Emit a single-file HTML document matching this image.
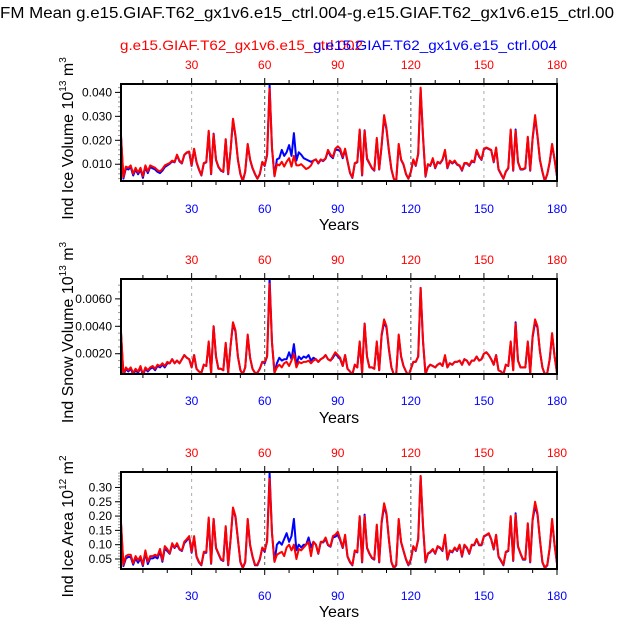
<!DOCTYPE html>
<html><head><meta charset="utf-8"><style>
html,body{margin:0;padding:0;background:#fff;}
svg{display:block;font-family:"Liberation Sans",Arial,sans-serif;}
</style></head><body>
<svg id="chart" width="618" height="619" viewBox="0 0 618 619" xmlns="http://www.w3.org/2000/svg">
<text x="0" y="18" font-size="16" textLength="614" lengthAdjust="spacingAndGlyphs">FM Mean g.e15.GIAF.T62_gx1v6.e15_ctrl.004-g.e15.GIAF.T62_gx1v6.e15_ctrl.00</text>
<text x="120" y="50" font-size="14" fill="#ff0000" textLength="243" lengthAdjust="spacingAndGlyphs">g.e15.GIAF.T62_gx1v6.e15_ctrl.002</text>
<text x="313" y="50" font-size="14" fill="#0000ff" textLength="244" lengthAdjust="spacingAndGlyphs">g.e15.GIAF.T62_gx1v6.e15_ctrl.004</text>
</svg>
<script>
const years = Array.from({length:180},(_, i)=>i+1);
const xTicks = [30,60,90,120,150,180];
const volRed = [22,4.6,9,8.5,9.5,6,8.5,6.5,8.5,5,9.5,7,9.5,9,8.5,7.5,7,8,9.5,10,10.5,11.5,11,14,11.5,10.5,14,15,15.3,9.5,16.5,11,8,5.5,10.5,11,24,6,22.5,12,9,7.5,7,20.5,6,16,29,22,12,6,3,7,18.5,12,8.5,6,4,6,11,9.5,14,41.5,17,5,10,9.5,11,9,11,12.5,9,13.5,9.5,9.5,10,9,8,8.5,9.5,11.5,12,10.5,12,11.5,12.5,16,14,13,16.5,17.5,16.5,13,16.5,11.5,6.5,4.5,10.5,11,24.5,5.5,24,12.5,10.5,8.5,7.5,21,8,18,30.5,25,16,8,4,3,18.5,12,10,6,4,7,12,9.5,14.5,42,22,5,10,9.5,12.5,8.5,11,10.5,12,16,8.5,11.5,10.5,11.5,10,9.5,7.5,10.5,10.5,9.5,11.5,11,16,13.5,12,16.5,17,16.5,16,11,17,8,6,4,7,8.5,24.5,7.5,24,11,8,8,8.5,21.5,7.5,21,30.5,22,12,7,3,6,11,18.5,12,5];
const volBlue = [21.5,4,8.3,7.8,8.8,5.3,7.8,5.8,7.8,4.3,8.8,6.3,8.8,8.3,7.8,6.8,6.3,7.3,8.8,9.5,10.2,11.2,10.8,13.7,11.2,10.3,13.8,14.8,15,9.3,16.2,10.8,7.8,5.3,10.3,10.8,23.5,5.8,22.8,11.8,8.8,7.3,6.8,20.2,5.8,15.8,28.5,21.5,11.8,5.8,2.9,6.8,18.2,11.8,8.3,5.8,3.9,5.8,10.8,9.3,13.8,43,16.5,5,12,12.5,16,13.5,15,18,13.5,23,11.5,15,14,12.5,12,11.5,11,11.5,12,10.3,11.8,11.3,12.3,15.5,13.5,12.5,16,16,15.5,12.5,16,11.2,6.3,4.3,10.3,10.8,24,5.3,24.2,12.2,10.3,8.3,7.3,20.5,7.8,17.5,29.5,24.5,15.5,7.8,3.9,2.9,18,11.8,9.8,5.8,3.9,6.8,11.8,9.3,14.2,41.5,21.5,4.8,9.8,9.3,12.2,8.3,10.8,10.3,11.8,15.5,8.3,11.2,10.3,11.2,9.8,9.3,7.3,10.3,10.3,9.3,11.2,10.8,15.5,13.2,11.8,16.2,16.8,16.3,15.8,10.8,16.7,7.8,5.8,3.9,6.8,8.3,24,7.3,24.5,10.8,7.8,7.8,8.3,21,7.3,20.5,29.5,21.5,11.8,6.8,2.9,5.8,10.8,18,11.8,4.8];
const snowRed = [3.6,0.5,1.0,0.8,1.0,0.6,0.9,0.7,1.1,0.5,1.0,0.8,1.0,1.1,0.9,1.2,1.1,1.3,1.1,1.4,1.3,1.6,1.3,1.5,1.3,1.6,1.9,1.7,1.6,1.0,1.9,0.9,0.7,0.6,1.2,1.1,2.9,0.6,4.0,1.8,0.9,0.9,0.8,2.8,0.6,2.6,4.3,3.7,1.8,0.8,0.5,1.0,3.4,1.7,0.9,0.6,0.6,0.9,1.4,1.4,1.8,7.1,2.8,0.6,1.0,1.2,1.0,1.3,1.4,1.1,1.5,2.0,1.0,1.4,1.3,1.4,1.4,1.5,1.3,1.5,1.6,1.4,1.6,1.7,1.9,1.6,1.5,1.8,2.1,1.9,1.7,1.1,1.9,0.9,0.7,0.5,1.2,1.0,2.9,0.6,4.2,1.8,1.0,1.0,0.9,2.9,0.8,3.4,4.5,4.0,2.4,1.0,0.5,0.5,3.4,1.8,1.1,0.7,0.4,0.9,1.4,1.4,1.8,6.8,3.0,0.5,1.0,1.2,1.1,1.0,1.2,1.3,1.1,1.9,1.0,1.3,1.2,1.4,1.4,1.5,1.2,1.6,1.5,1.2,1.5,1.5,1.8,1.5,1.6,2.0,2.1,1.9,1.6,1.2,1.9,0.8,0.7,0.5,1.2,1.1,2.9,0.8,4.2,1.5,1.0,1.0,1.0,2.9,0.6,3.3,4.5,4.0,2.2,1.0,0.5,0.6,1.6,3.5,1.8,0.6];
const snowBlue = [3.5,0.4,0.9,0.7,0.9,0.5,0.8,0.6,1.0,0.4,0.9,0.7,0.9,1.0,0.8,1.1,1.0,1.2,1.0,1.3,1.3,1.6,1.3,1.5,1.3,1.6,1.9,1.7,1.6,1.0,1.9,0.9,0.7,0.6,1.2,1.1,2.8,0.6,4.0,1.8,0.9,0.9,0.8,2.7,0.6,2.6,4.2,3.6,1.8,0.8,0.5,1.0,3.3,1.7,0.9,0.6,0.6,0.9,1.4,1.3,1.8,7.5,2.8,0.6,1.3,1.7,1.5,1.6,1.6,2.1,1.6,2.7,1.2,1.8,1.6,1.8,1.7,1.9,1.5,1.7,1.6,1.4,1.6,1.7,1.9,1.6,1.5,1.7,2.0,1.8,1.6,1.1,1.9,0.9,0.7,0.5,1.2,1.0,2.8,0.6,4.2,1.8,1.0,1.0,0.9,2.8,0.8,3.3,4.3,3.9,2.3,1.0,0.5,0.5,3.3,1.8,1.1,0.7,0.4,0.9,1.4,1.4,1.8,6.8,2.9,0.5,1.0,1.2,1.1,1.0,1.2,1.3,1.1,1.8,1.0,1.3,1.2,1.4,1.4,1.5,1.2,1.6,1.5,1.2,1.5,1.5,1.8,1.5,1.6,2.0,2.1,1.9,1.6,1.2,1.9,0.8,0.7,0.5,1.2,1.1,2.8,0.8,4.3,1.5,1.0,1.0,1.0,2.8,0.6,3.2,4.3,3.9,2.2,1.0,0.5,0.6,1.6,3.4,1.8,0.6];
const areaRed = [0.18,0.03,0.06,0.065,0.065,0.035,0.06,0.045,0.06,0.03,0.08,0.04,0.06,0.06,0.065,0.06,0.085,0.045,0.095,0.085,0.07,0.105,0.09,0.105,0.085,0.08,0.11,0.12,0.13,0.075,0.13,0.06,0.04,0.03,0.075,0.075,0.195,0.035,0.19,0.09,0.07,0.05,0.045,0.165,0.03,0.12,0.23,0.2,0.12,0.04,0.02,0.04,0.19,0.1,0.06,0.03,0.03,0.05,0.09,0.08,0.11,0.33,0.14,0.04,0.065,0.07,0.075,0.06,0.09,0.1,0.08,0.1,0.05,0.085,0.08,0.09,0.1,0.11,0.06,0.11,0.1,0.07,0.11,0.11,0.125,0.1,0.095,0.13,0.135,0.145,0.12,0.09,0.135,0.06,0.04,0.03,0.08,0.075,0.2,0.04,0.2,0.09,0.07,0.055,0.05,0.17,0.04,0.18,0.245,0.21,0.12,0.04,0.02,0.03,0.19,0.11,0.08,0.05,0.03,0.05,0.095,0.08,0.12,0.34,0.17,0.04,0.07,0.075,0.085,0.07,0.095,0.09,0.08,0.135,0.05,0.08,0.075,0.09,0.08,0.1,0.06,0.1,0.09,0.07,0.1,0.1,0.12,0.1,0.1,0.13,0.135,0.14,0.12,0.085,0.135,0.06,0.045,0.03,0.075,0.08,0.2,0.045,0.205,0.095,0.07,0.05,0.05,0.175,0.04,0.19,0.25,0.21,0.12,0.04,0.02,0.03,0.09,0.19,0.1,0.035];
const areaBlue = [0.17,0.025,0.052,0.057,0.057,0.03,0.052,0.037,0.052,0.025,0.072,0.032,0.052,0.052,0.057,0.052,0.077,0.04,0.087,0.078,0.068,0.1,0.088,0.1,0.083,0.078,0.105,0.115,0.125,0.072,0.125,0.058,0.038,0.028,0.072,0.072,0.19,0.033,0.19,0.088,0.068,0.048,0.043,0.16,0.028,0.118,0.225,0.195,0.118,0.038,0.018,0.038,0.185,0.098,0.058,0.028,0.028,0.048,0.088,0.075,0.115,0.35,0.14,0.04,0.1,0.11,0.1,0.12,0.14,0.11,0.13,0.19,0.08,0.1,0.09,0.1,0.1,0.125,0.09,0.11,0.1,0.068,0.108,0.108,0.12,0.098,0.093,0.125,0.128,0.135,0.115,0.088,0.13,0.058,0.038,0.028,0.078,0.073,0.195,0.038,0.205,0.088,0.068,0.053,0.048,0.165,0.038,0.175,0.235,0.205,0.118,0.038,0.018,0.028,0.185,0.108,0.078,0.048,0.028,0.048,0.093,0.078,0.118,0.34,0.165,0.038,0.068,0.073,0.083,0.068,0.093,0.088,0.078,0.13,0.048,0.078,0.073,0.088,0.078,0.098,0.058,0.098,0.088,0.068,0.098,0.098,0.118,0.098,0.098,0.128,0.133,0.138,0.118,0.083,0.133,0.058,0.043,0.028,0.073,0.078,0.195,0.043,0.21,0.093,0.068,0.048,0.048,0.17,0.038,0.185,0.235,0.205,0.118,0.038,0.018,0.028,0.088,0.185,0.098,0.033];
const volTicks = ["0.010","0.020","0.030","0.040"];
const snowTicks = ["0.0020","0.0040","0.0060"];
const areaTicks = ["0.05","0.10","0.15","0.20","0.25","0.30"];

const NS = "http://www.w3.org/2000/svg";
const svg = document.getElementById('chart');
function mk(tag, attrs, parent){
  const e = document.createElementNS(NS, tag);
  for (const k in attrs) e.setAttribute(k, attrs[k]);
  (parent||svg).appendChild(e);
  return e;
}
const X0 = 121, X1 = 557;
function xScale(yr){ return X0 + (yr - 1) * (X1 - X0) / 179; }

const panels = [
  {name:'ice-volume', top:84, bot:181, vmin:0.0030, vmax:0.0435, unit:1e-3, red:volRed, blue:volBlue, ticks:volTicks, minor:0.002, title:'Ind Ice Volume 10', sup:'13', tail:' m', sup2:'3', topLab:69, botLab:213, years:230},
  {name:'snow-volume', top:279, bot:374, vmin:0.00052, vmax:0.00745, unit:1e-3, red:snowRed, blue:snowBlue, ticks:snowTicks, minor:0.0005, title:'Ind Snow Volume 10', sup:'13', tail:' m', sup2:'3', topLab:264, botLab:405, years:423},
  {name:'ice-area', top:472, bot:569, vmin:0.015, vmax:0.354, unit:1, red:areaRed, blue:areaBlue, ticks:areaTicks, minor:0.01, title:'Ind Ice Area 10', sup:'12', tail:' m', sup2:'2', topLab:457, botLab:600, years:617}
];

panels.forEach(p=>{
  const g = mk('g', {});
  
  
  const yScale = v => p.bot - (v - p.vmin) * (p.bot - p.top) / (p.vmax - p.vmin);
  // grid dashed lines
  [30,60,90,120,150].forEach(t=>{
    const dark = (t===60||t===120);
    const l = mk('line', {x1:xScale(t), x2:xScale(t), y1:p.top, y2:p.bot, stroke: dark?'#555':'#aaa', 'stroke-width':1, 'stroke-dasharray': dark?'3,3':'3,4'}, g);
    
    
  });
  // x ticks top and bottom
  for (let t=10; t<=180; t+=10){
    const major = t%30===0;
    const len = major?6:4;
    mk('line', {x1:xScale(t), x2:xScale(t), y1:p.top, y2:p.top-len, stroke:'#000', 'stroke-width':1}, g);
    mk('line', {x1:xScale(t), x2:xScale(t), y1:p.bot, y2:p.bot+len, stroke:'#000', 'stroke-width':1}, g);
  }
  xTicks.forEach(t=>{
    const a = mk('text', {x:xScale(t), y:p.topLab, 'font-size':12, fill:'#ff0000', 'text-anchor':'middle'}, g);
    a.textContent = t;
    
    
    const b = mk('text', {x:xScale(t), y:p.botLab, 'font-size':12, fill:'#0000ff', 'text-anchor':'middle'}, g);
    b.textContent = t;
    
    
  });
  // y minor ticks
  const step = p.minor;
  for (let v = Math.ceil(p.vmin/step)*step; v <= p.vmax + 1e-12; v += step){
    const y = yScale(v);
    mk('line', {x1:X0, x2:X0-3, y1:y, y2:y, stroke:'#999', 'stroke-width':1}, g);
  }
  p.ticks.forEach(lab=>{
    const v = parseFloat(lab);
    const y = yScale(v);
    mk('line', {x1:X0, x2:X0-6, y1:y, y2:y, stroke:'#000', 'stroke-width':1}, g);
    const t = mk('text', {x:X0-9, y:y+4, 'font-size':12, 'text-anchor':'end'}, g);
    t.textContent = lab;
    
    
  });
  // series
  const clipId = 'clip-' + p.name;
  const cp = mk('clipPath', {id:clipId}, g);
  mk('rect', {x:X0, y:p.top, width:X1-X0, height:p.bot-p.top}, cp);
  [['blue', p.blue, '#0000ff'], ['red', p.red, '#ff0000']].forEach(([nm, arr, col])=>{
    const pts = arr.map((v,i)=> xScale(years[i]).toFixed(1) + ',' + yScale(v*p.unit).toFixed(1)).join(' ');
    const pl = mk('polyline', {points:pts, fill:'none', stroke:col, 'stroke-width':2, 'stroke-linejoin':'round', 'clip-path':'url(#'+clipId+')'}, g);
    
    
  });
  const box = mk('rect', {x:X0, y:p.top, width:X1-X0, height:p.bot-p.top, fill:'none', stroke:'#000', 'stroke-width':2}, g);
  
  
  // axis titles
  const xt = mk('text', {x:(X0+X1)/2, y:p.years, 'font-size':16, 'text-anchor':'middle'}, g);
  xt.textContent = 'Years';
  
  
  const cy = (p.top + p.bot)/2 + 6;
  const yt = mk('text', {x:0, y:0, 'font-size':16, 'text-anchor':'middle', transform:'translate(73,'+cy+') rotate(-90)'}, g);
  
  
  const s1 = mk('tspan', {}, yt); s1.textContent = p.title;
  const s2 = mk('tspan', {dy:-7, 'font-size':10}, yt); s2.textContent = p.sup;
  const s3 = mk('tspan', {dy:7}, yt); s3.textContent = p.tail;
  const s4 = mk('tspan', {dy:-7, 'font-size':10}, yt); s4.textContent = p.sup2;
});
</script>
</body></html>
